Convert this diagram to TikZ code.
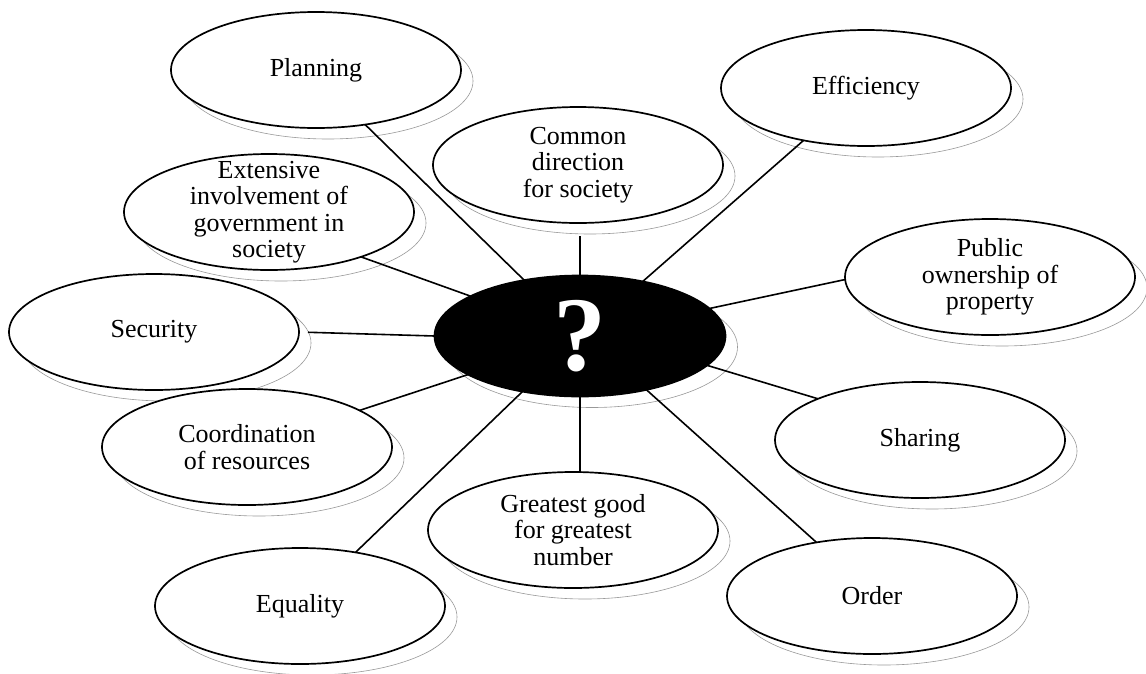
\documentclass[tikz,border=0pt]{standalone}
\usepackage{fontspec}
\setmainfont{Liberation Serif}
\usetikzlibrary{shapes.geometric,shadows}

\tikzset{
  bubble/.style={ellipse, draw, line width=1.7pt, fill=white,
    minimum width=290pt, minimum height=116pt,
    inner xsep=0pt, inner ysep=-20pt, outer sep=0pt, align=center,
    font=\fontsize{26}{26.5}\selectfont,
    copy shadow={shadow xshift=12pt, shadow yshift=-11pt, draw=black!40, line width=0.6pt, fill=white}},
  hub/.style={bubble, fill=black, text=white, minimum width=291pt, minimum height=121pt,
    font=\fontsize{106}{106}\selectfont\bfseries},
  spoke/.style={line width=1.6pt},
}

\begin{document}
\begin{tikzpicture}[x=1pt,y=1pt,yscale=-1,xscale=1]
	\useasboundingbox (0,0) rectangle (1146,673);
	
	%Centre
	\node [hub] (q) at (580,336) {?};
	
	%Ellipses, top row
	\node [bubble] (plan) at (316,70) {Planning};
	\node [bubble] (eff) at (866,88) {Efficiency};
	\node [bubble] (dir) at (578,165) {Common\\direction\\for society};
	\node [bubble] (gov) at (269,212) {Extensive\\involvement of\\government in\\society};
	\node [bubble] (own) at (990,277) {Public\\ownership of\\property};
	
	%Ellipses, middle row
	\node [bubble] (sec) at (154,332) {Security};
	\node [bubble] (share) at (920,440) {Sharing};
	\node [bubble] (coord) at (247,447) {Coordination\\of resources};
	
	%Ellipses, bottom row
	\node [bubble] (good) at (573,530) {Greatest good\\for greatest\\number};
	\node [bubble] (eq) at (300,606) {Equality};
	\node [bubble] (ord) at (872,596) {Order};
	
	%Spokes
	\draw [spoke] (q.135) -- (plan.312);
	\draw [spoke] (q.41) -- (eff.220);
	\draw [spoke, shorten >=13pt] (q.north) -- (q.north |- dir.south);
	\draw [spoke] (q.160) -- (gov.334);
	\draw [spoke] (q.12) -- (own.181);
	\draw [spoke, shorten >=9pt] (q.west) -- (sec.east);
	\draw [spoke] (q.347) -- (share.158);
	\draw [spoke] (q.199) -- (coord.18);
	\draw [spoke] (q.south) -- (q.south |- good.north);
	\draw [spoke] (q.224) -- (eq.44);
	\draw [spoke] (q.321) -- (ord.136);
	
\end{tikzpicture}
\end{document}
